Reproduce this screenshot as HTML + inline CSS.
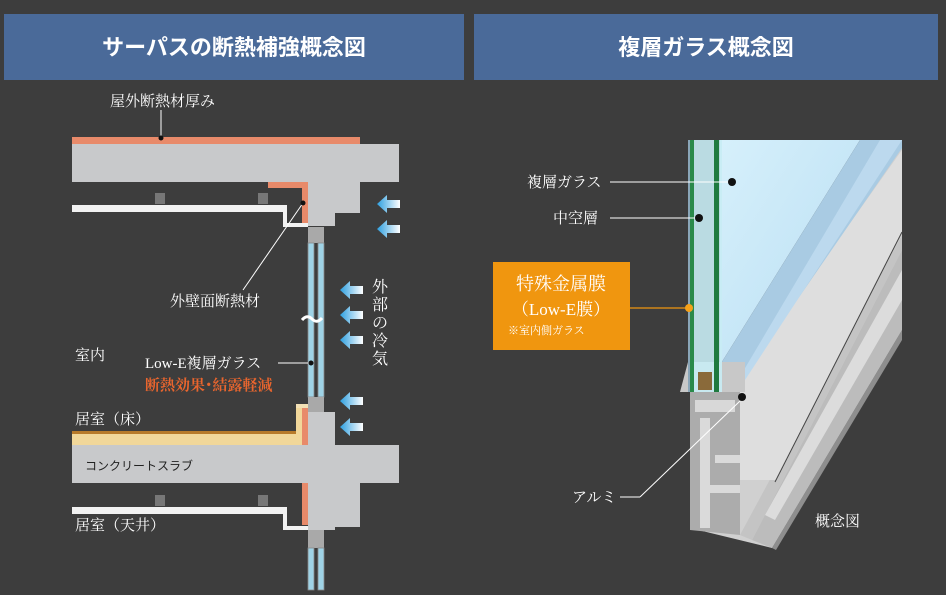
<!DOCTYPE html>
<html><head><meta charset="utf-8"><style>
html,body{margin:0;padding:0;background:#3d3d3d;}
svg{display:block;}
text{font-family:"Liberation Serif","Noto Serif CJK SC",serif;fill:#fff;}
.h{font-family:"Liberation Sans","Noto Sans CJK JP",sans-serif;font-weight:bold;font-size:22px;}
</style></head><body>
<svg width="946" height="595" viewBox="0 0 946 595" xmlns="http://www.w3.org/2000/svg">
<defs>
<linearGradient id="ar" x1="0" x2="1"><stop offset="0" stop-color="#2d9fe0"/><stop offset="1" stop-color="#ffffff"/></linearGradient>
<g id="arrow"><polygon points="0,0 10,-9 10,-4 23,-4 23,4 10,4 10,9" fill="url(#ar)"/></g>
<linearGradient id="gl" x1="0" y1="0" x2="1" y2="1"><stop offset="0" stop-color="#d6f0fb"/><stop offset="1" stop-color="#b9def3"/></linearGradient>
</defs>
<rect width="946" height="595" fill="#3d3d3d"/>
<rect x="4" y="14" width="460" height="66" fill="#4a6a99"/>
<rect x="474" y="14" width="464" height="66" fill="#4a6a99"/>
<text class="h" x="234" y="55" text-anchor="middle">サーパスの断熱補強概念図</text>
<text class="h" x="706" y="55" text-anchor="middle">複層ガラス概念図</text>

<!-- left diagram -->
<rect x="72" y="137" width="288" height="7" fill="#e88a6a"/>
<polygon points="72,144 399,144 399,182 360,182 360,213 335,213 335,226 308,226 308,182 72,182" fill="#c8c9cb"/>
<polygon points="268,182 308,182 308,223 302,223 302,188 268,188" fill="#e88a6a"/>
<rect x="72" y="205" width="211" height="7" fill="#f2f2f2"/>
<polygon points="283,205 287,205 287,223 308,223 308,227 283,227" fill="#f2f2f2"/>
<rect x="155" y="193" width="10" height="11" fill="#777"/>
<rect x="258" y="193" width="10" height="11" fill="#777"/>
<rect x="308" y="227" width="16" height="16" fill="#a9a9a9"/>
<rect x="308" y="243" width="6" height="154" fill="#9fd3e6" stroke="#888" stroke-width="0.8"/>
<rect x="318" y="243" width="6" height="154" fill="#9fd3e6" stroke="#888" stroke-width="0.8"/>
<path d="M302,320 q5,-6 10,-1 t10,-1" stroke="#fff" stroke-width="3" fill="none"/>
<rect x="308" y="397" width="16" height="15" fill="#a9a9a9"/>
<rect x="296" y="404" width="12" height="4" fill="#f3e0b5"/>
<rect x="72" y="431" width="230" height="3" fill="#b77a2a"/>
<rect x="72" y="434" width="230" height="11" fill="#f1d79a"/>
<rect x="296" y="408" width="6" height="37" fill="#f1d79a"/>
<rect x="302" y="408" width="6" height="37" fill="#e88a6a"/>
<polygon points="308,412 335,412 335,445 399,445 399,483 360,483 360,527 335,527 335,530 308,530 308,483 72,483 72,445 308,445" fill="#c8c9cb"/>
<rect x="302" y="483" width="6" height="42" fill="#e88a6a"/>
<rect x="72" y="507" width="211" height="7" fill="#f2f2f2"/>
<polygon points="283,507 287,507 287,526 308,526 308,530 283,530" fill="#f2f2f2"/>
<rect x="155" y="495" width="10" height="11" fill="#777"/>
<rect x="258" y="495" width="10" height="11" fill="#777"/>
<rect x="308" y="530" width="16" height="18" fill="#a9a9a9"/>
<rect x="308" y="548" width="6" height="42" fill="#9fd3e6" stroke="#888" stroke-width="0.8"/>
<rect x="318" y="548" width="6" height="42" fill="#9fd3e6" stroke="#888" stroke-width="0.8"/>

<use href="#arrow" x="377" y="204"/><use href="#arrow" x="377" y="229"/>
<use href="#arrow" x="340" y="290"/><use href="#arrow" x="340" y="315"/><use href="#arrow" x="340" y="340"/>
<use href="#arrow" x="340" y="401"/><use href="#arrow" x="340" y="427"/>

<text x="110" y="106" font-size="15">屋外断熱材厚み</text>
<line x1="161" y1="110" x2="161" y2="137" stroke="#fff" stroke-width="1"/>
<circle cx="161" cy="138" r="2.5" fill="#111"/>
<line x1="243" y1="290" x2="303" y2="203" stroke="#fff" stroke-width="1"/>
<circle cx="303" cy="203" r="2.5" fill="#111"/>
<text x="170" y="306" font-size="15">外壁面断熱材</text>
<g font-size="16"><text x="372" y="292">外</text><text x="372" y="310">部</text><text x="372" y="328">の</text><text x="372" y="346">冷</text><text x="372" y="364">気</text></g>
<text x="75" y="360" font-size="15">室内</text>
<text x="145" y="368" font-size="15">Low-E複層ガラス</text>
<line x1="278" y1="363" x2="311" y2="363" stroke="#fff" stroke-width="1"/>
<circle cx="311" cy="363" r="2.5" fill="#111"/>
<text x="145" y="390" font-size="15" style="fill:#e8652e;font-weight:bold">断熱効果･結露軽減</text>
<text x="75" y="424" font-size="15">居室（床）</text>
<text x="85" y="470" font-size="12" style="fill:#222;font-family:'Liberation Sans','Noto Sans CJK JP',sans-serif">コンクリートスラブ</text>
<text x="75" y="530" font-size="15">居室（天井）</text>

<!-- right diagram -->
<polygon points="690,392 720,392 900,140 902,140 902,330 772,548 690,528" fill="#d0d0d0"/>
<polygon points="902,250 902,330 772,548 752,540" fill="#bcbcbc"/>
<polygon points="902,270 902,300 775,520 765,515" fill="#dcdcdc"/>
<polygon points="902,235 902,250 752,540 740,535" fill="#c4c4c4"/>
<polygon points="902,330 902,340 776,550 772,548" fill="#8e8e8e"/>
<polygon points="902,150 902,232 776,480 740,480 728,470 728,395" fill="#dedede"/>
<line x1="902" y1="232" x2="775" y2="482" stroke="#444" stroke-width="1"/>
<polygon points="720,140 860,140 720,365" fill="url(#gl)"/>
<polygon points="860,140 902,140 902,148 735,390 720,390 720,365" fill="#a9cbe3"/>
<polygon points="880,140 902,140 745,380 735,385" fill="#bcd9ee"/>
<polygon points="688,362 745,362 745,392 680,392" fill="#c8c8c8"/>
<polygon points="690,392 740,392 740,535 690,530" fill="#acacac"/>
<rect x="695" y="400" width="40" height="12" fill="#d8d8d8"/>
<rect x="700" y="418" width="10" height="110" fill="#dadada"/>
<rect x="715" y="455" width="25" height="8" fill="#dadada"/>
<rect x="700" y="485" width="40" height="8" fill="#dadada"/>
<rect x="688" y="140" width="34" height="252" fill="#c8ecf4" opacity="0.9"/>
<rect x="688" y="140" width="2" height="252" fill="#8aa6b8"/>
<rect x="690" y="140" width="4" height="252" fill="#2a8a4a"/>
<rect x="714" y="140" width="5" height="252" fill="#1f7a3f"/>
<rect x="698" y="372" width="14" height="18" fill="#8a6a3a"/>

<rect x="493" y="262" width="137" height="88" fill="#f0960f"/>
<text x="561" y="290" font-size="18" text-anchor="middle">特殊金属膜</text>
<text x="561" y="315" font-size="17" text-anchor="middle">（Low-E膜）</text>
<text x="508" y="334" font-size="11">※室内側ガラス</text>
<line x1="630" y1="308" x2="688" y2="308" stroke="#f0960f" stroke-width="1.2"/>
<circle cx="689" cy="308" r="4" fill="#f5a11a"/>
<text x="527" y="187" font-size="15">複層ガラス</text>
<line x1="610" y1="182" x2="728" y2="182" stroke="#fff" stroke-width="1"/>
<circle cx="732" cy="182" r="4" fill="#111"/>
<text x="553" y="223" font-size="15">中空層</text>
<line x1="610" y1="218" x2="697" y2="218" stroke="#fff" stroke-width="1"/>
<circle cx="699" cy="218" r="4" fill="#111"/>
<text x="572" y="502" font-size="15">アルミ</text>
<line x1="620" y1="497" x2="640" y2="497" stroke="#fff" stroke-width="1"/>
<line x1="640" y1="497" x2="740" y2="401" stroke="#fff" stroke-width="1"/>
<circle cx="742" cy="397" r="4" fill="#111"/>
<text x="815" y="526" font-size="15">概念図</text>
</svg>
</body></html>
